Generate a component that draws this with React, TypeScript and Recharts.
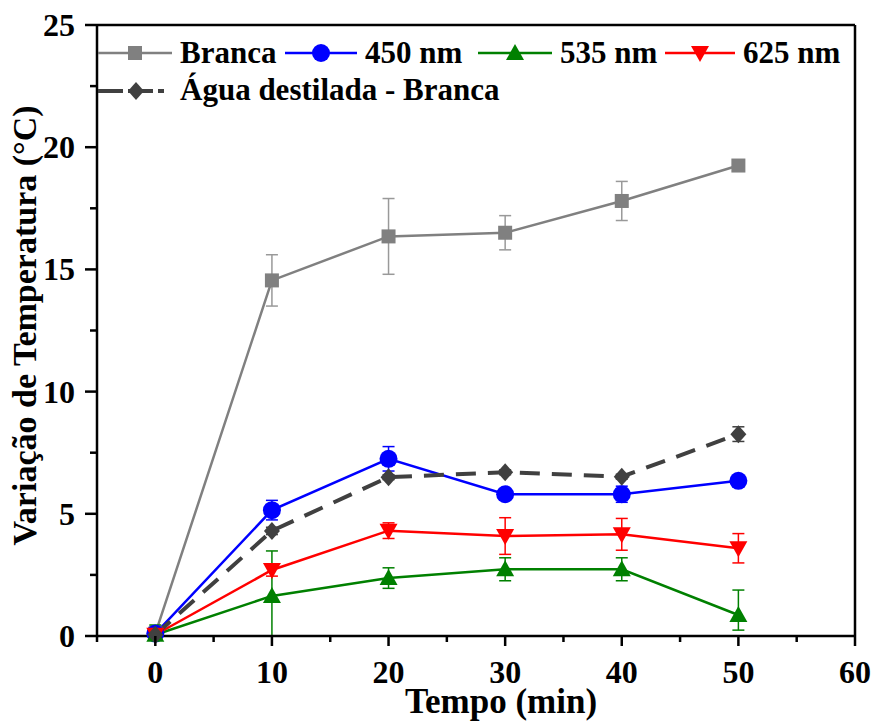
import React from "react";
import { LineChart, Line, XAxis, YAxis, ErrorBar } from "recharts";

// tempo (min)
const TIME = [0, 10, 20, 30, 40, 50];

// variação de temperatura (°C) e desvios ([abaixo, acima] quando assimétrico)
const BRANCA = [0.1, 14.55, 16.35, 16.5, 17.8, 19.25];
const BRANCA_ERR: (number | number[])[] = [[0.1, 0.3], 1.05, 1.55, 0.7, 0.8, 0.1];
const NM450 = [0.1, 5.15, 7.25, 5.8, 5.8, 6.35];
const NM450_ERR: (number | number[])[] = [[0.1, 0.25], 0.4, 0.5, 0.1, 0.33, 0.1];
const NM535 = [0.05, 1.64, 2.37, 2.73, 2.73, 0.86];
const NM535_ERR: (number | number[])[] = [[0.05, 0.4], [1.64, 1.84], 0.42, 0.47, 0.47, [0.62, 1.02]];
const NM625 = [0.05, 2.7, 4.31, 4.09, 4.16, 3.59];
const NM625_ERR: (number | number[])[] = [[0.05, 0.2], 0.25, 0.32, 0.75, 0.65, 0.6];
const AGUA = [0.05, 4.3, 6.5, 6.7, 6.52, 8.26];
const AGUA_ERR: (number | number[])[] = [[0.05, 0.1], 0.15, 0.1, 0.1, 0.1, 0.3];

const X_TICKS = [-5, 0, 5, 10, 15, 20, 25, 30, 35, 40, 45, 50, 55, 60];
const Y_TICKS = [0, 2.5, 5, 7.5, 10, 12.5, 15, 17.5, 20, 22.5, 25];

const data = TIME.map((t, i) => ({
  t,
  branca: BRANCA[i],
  brancaErr: BRANCA_ERR[i],
  nm450: NM450[i],
  nm450Err: NM450_ERR[i],
  nm535: NM535[i],
  nm535Err: NM535_ERR[i],
  nm625: NM625[i],
  nm625Err: NM625_ERR[i],
  agua: AGUA[i],
  aguaErr: AGUA_ERR[i],
}));

const FONT = '"Liberation Serif", "Times New Roman", serif';
const GRAY = "#808080";
const BLUE = "#0000ff";
const GREEN = "#008000";
const RED = "#ff0000";
const DARK = "#404040";

type Kind = "square" | "circle" | "up" | "down" | "diamond";

function Marker({ kind, cx, cy, color }: { kind: Kind; cx: number; cy: number; color: string }) {
  if (cx == null || cy == null) return null;
  switch (kind) {
    case "square":
      return <rect x={cx - 7} y={cy - 7} width={14} height={14} fill={color} />;
    case "circle":
      return <circle cx={cx} cy={cy} r={9} fill={color} />;
    case "up":
      return <polygon points={`${cx},${cy - 9} ${cx + 9},${cy + 7} ${cx - 9},${cy + 7}`} fill={color} />;
    case "down":
      return <polygon points={`${cx},${cy + 9} ${cx + 9},${cy - 7} ${cx - 9},${cy - 7}`} fill={color} />;
    default:
      return <polygon points={`${cx},${cy - 9} ${cx + 8},${cy} ${cx},${cy + 9} ${cx - 8},${cy}`} fill={color} />;
  }
}

const dotOf = (kind: Kind, color: string) => (p: any) =>
  <Marker key={`${kind}-${p.index}`} kind={kind} cx={p.cx} cy={p.cy} color={color} />;

function XTick({ x, y, payload }: any) {
  const major = payload.value % 10 === 0;
  return (
    <g>
      <line x1={x} y1={y} x2={x} y2={y + (major ? 10 : 6)} stroke="#000" strokeWidth={2.5} />
      {major && (
        <text x={x} y={y + 47} textAnchor="middle" fontFamily={FONT} fontWeight="bold" fontSize={32} fill="#000">
          {payload.value}
        </text>
      )}
    </g>
  );
}

function YTick({ x, y, payload }: any) {
  const major = payload.value % 5 === 0;
  return (
    <g>
      <line x1={x} y1={y} x2={x - (major ? 12 : 7)} y2={y} stroke="#000" strokeWidth={2.5} />
      {major && (
        <text x={x - 22} y={y + 11} textAnchor="end" fontFamily={FONT} fontWeight="bold" fontSize={32} fill="#000">
          {payload.value}
        </text>
      )}
    </g>
  );
}

const xTitle = ({ viewBox }: any) => (
  <text
    x={viewBox.x + viewBox.width / 2 + 25}
    y={viewBox.y + 77}
    textAnchor="middle"
    fontFamily={FONT}
    fontWeight="bold"
    fontSize={35}
    fill="#000"
  >
    Tempo (min)
  </text>
);

const yTitle = ({ viewBox }: any) => {
  const cx = 36;
  const cy = viewBox.y + viewBox.height / 2 - 5;
  return (
    <text
      x={cx}
      y={cy}
      transform={`rotate(-90, ${cx}, ${cy})`}
      textAnchor="middle"
      fontFamily={FONT}
      fontWeight="bold"
      fontSize={34}
      fill="#000"
    >
      Variação de Temperatura (°C)
    </text>
  );
};

const LEGEND = [
  { name: "Branca", color: GRAY, kind: "square" as Kind, x: 98, len: 74, row: 0, dash: undefined },
  { name: "450 nm", color: BLUE, kind: "circle" as Kind, x: 285, len: 72, row: 0, dash: undefined },
  { name: "535 nm", color: GREEN, kind: "up" as Kind, x: 478, len: 74, row: 0, dash: undefined },
  { name: "625 nm", color: RED, kind: "down" as Kind, x: 665, len: 70, row: 0, dash: undefined },
  { name: "Água destilada - Branca", color: DARK, kind: "diamond" as Kind, x: 98, len: 66, row: 1, dash: "25 5" },
];

function LegendOverlay() {
  return (
    <svg width={873} height={722} style={{ position: "absolute", left: 0, top: 0, pointerEvents: "none" }}>
      {LEGEND.map((item) => {
        const ly = item.row === 0 ? 53 : 91;
        return (
          <g key={item.name}>
            <line
              x1={item.x}
              y1={ly}
              x2={item.x + item.len}
              y2={ly}
              stroke={item.color}
              strokeWidth={item.dash ? 4 : 2.5}
              strokeDasharray={item.dash}
            />
            <Marker kind={item.kind} cx={item.x + (item.dash ? 38 : item.len / 2)} cy={ly} color={item.color} />
            <text
              x={item.dash ? 180 : item.x + item.len + 8}
              y={item.row === 0 ? 63 : 100}
              fontFamily={FONT}
              fontWeight="bold"
              fontSize={31}
              fill="#000"
            >
              {item.name}
            </text>
          </g>
        );
      })}
    </svg>
  );
}

export default function App() {
  return (
    <div style={{ position: "absolute", left: 0, top: 0, width: 873, height: 722, background: "#fff" }}>
      <LineChart width={873} height={722} data={data} margin={{ top: 24, right: 17, bottom: 85, left: 96 }}>
        <XAxis
          dataKey="t"
          type="number"
          domain={[-5, 60]}
          ticks={X_TICKS}
          interval={0}
          height={1}
          tickSize={0}
          tickMargin={0}
          tickLine={false}
          tick={<XTick />}
          axisLine={{ stroke: "#000", strokeWidth: 2.5 }}
          label={xTitle}
        />
        <XAxis
          xAxisId="top"
          orientation="top"
          type="number"
          domain={[-5, 60]}
          height={1}
          tick={false}
          tickLine={false}
          axisLine={{ stroke: "#000", strokeWidth: 2.5 }}
        />
        <YAxis
          type="number"
          domain={[0, 25]}
          ticks={Y_TICKS}
          interval={0}
          width={1}
          tickSize={0}
          tickMargin={0}
          tickLine={false}
          tick={<YTick />}
          axisLine={{ stroke: "#000", strokeWidth: 2.5 }}
          label={yTitle}
        />
        <YAxis
          yAxisId="right"
          orientation="right"
          type="number"
          domain={[0, 25]}
          width={1}
          tick={false}
          tickLine={false}
          axisLine={{ stroke: "#000", strokeWidth: 2.5 }}
        />
        <Line dataKey="branca" stroke={GRAY} strokeWidth={2.5} dot={dotOf("square", GRAY)} isAnimationActive={false}>
          <ErrorBar dataKey="brancaErr" direction="y" width={6} strokeWidth={1.5} stroke="#999999" />
        </Line>
        <Line dataKey="nm450" stroke={BLUE} strokeWidth={2.5} dot={dotOf("circle", BLUE)} isAnimationActive={false}>
          <ErrorBar dataKey="nm450Err" direction="y" width={6} strokeWidth={1.5} stroke={BLUE} />
        </Line>
        <Line dataKey="nm535" stroke={GREEN} strokeWidth={2.5} dot={dotOf("up", GREEN)} isAnimationActive={false}>
          <ErrorBar dataKey="nm535Err" direction="y" width={6} strokeWidth={1.5} stroke={GREEN} />
        </Line>
        <Line dataKey="nm625" stroke={RED} strokeWidth={2.5} dot={dotOf("down", RED)} isAnimationActive={false}>
          <ErrorBar dataKey="nm625Err" direction="y" width={6} strokeWidth={1.5} stroke={RED} />
        </Line>
        <Line
          dataKey="agua"
          stroke={DARK}
          strokeWidth={4}
          strokeDasharray="20 12"
          dot={dotOf("diamond", DARK)}
          isAnimationActive={false}
        >
          <ErrorBar dataKey="aguaErr" direction="y" width={6} strokeWidth={1.5} stroke={DARK} />
        </Line>
      </LineChart>
      <LegendOverlay />
    </div>
  );
}
